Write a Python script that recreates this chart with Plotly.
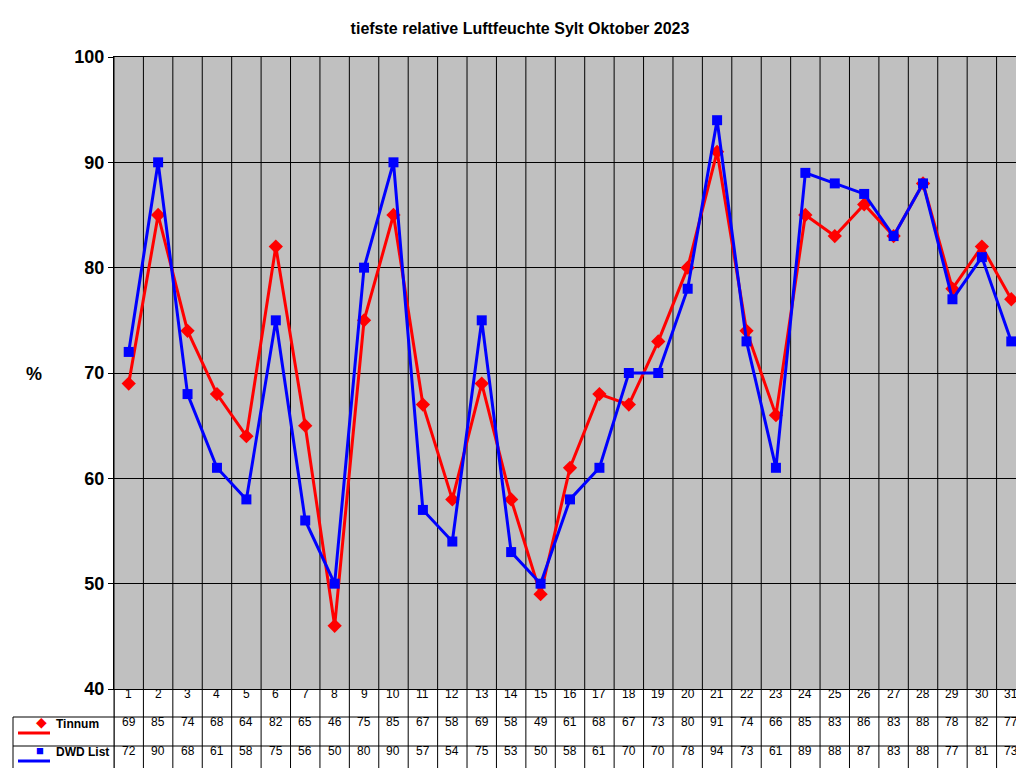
import plotly.graph_objects as go

days = list(range(1, 32))
tinnum = [69,85,74,68,64,82,65,46,75,85,67,58,69,58,49,61,68,67,73,80,91,74,66,85,83,86,83,88,78,82,77]
dwd = [72,90,68,61,58,75,56,50,80,90,57,54,75,53,50,58,61,70,70,78,94,73,61,89,88,87,83,88,77,81,73]
names = ["Tinnum", "DWD List"]
colors = ["#FF0000", "#0000FF"]
symbols = ["diamond", "square"]

W, H = 1024, 768
L, R, T, B = 106, 1018, 49, 681
ph = B - T
pw = R - L
def py(pix): return (B - pix) / ph
def px(pix): return (pix - L) / pw

fig = go.Figure()
for name, vals, c, s in zip(names, [tinnum, dwd], colors, symbols):
    fig.add_trace(go.Scatter(x=days, y=vals, mode="lines+markers", name=name,
                             line=dict(color=c, width=3),
                             marker=dict(symbol=s, size=11 if s == "diamond" else 10, color=c),
                             showlegend=False, cliponaxis=False))

shapes = []
for i in range(32):
    shapes.append(dict(type="line", xref="x", yref="paper", x0=i+0.5, x1=i+0.5,
                       y0=py(766), y1=1, line=dict(color="black", width=1), layer="below"))
for yp in [709, 738, 766]:
    shapes.append(dict(type="line", xref="paper", yref="paper", x0=px(5), x1=1,
                       y0=py(yp), y1=py(yp), line=dict(color="black", width=1)))
shapes.append(dict(type="line", xref="paper", yref="paper", x0=px(5), x1=px(5),
                   y0=py(709), y1=py(766), line=dict(color="black", width=1)))
shapes.append(dict(type="line", xref="paper", yref="paper", x0=px(106), x1=px(106),
                   y0=py(681), y1=py(766), line=dict(color="black", width=1)))
for j, yp in enumerate([725, 753]):
    shapes.append(dict(type="line", xref="paper", yref="paper", x0=px(10), x1=px(42),
                       y0=py(yp), y1=py(yp), line=dict(color=colors[j], width=3)))

ann = []
rows = [(695, [str(d) for d in days]), (723, [str(v) for v in tinnum]), (752, [str(v) for v in dwd])]
for yp, labels in rows:
    for d, lab in zip(days, labels):
        ann.append(dict(x=d, y=py(yp), xref="x", yref="paper", text=lab, showarrow=False,
                        font=dict(size=12, color="black", family="Arial, Liberation Sans"),
                        ))
for j, yp in enumerate([725, 753]):
    ann.append(dict(x=px(26), y=py(yp), xref="paper", yref="paper", showarrow=False,
                    text=["◆", "■"][j], font=dict(size=14 if j == 0 else 13, color=colors[j])))
    ann.append(dict(x=px(46), y=py(yp), xref="paper", yref="paper", showarrow=False,
                    xanchor="left", text="<b>" + names[j] + "</b>",
                    font=dict(size=12, color="black", family="Arial, Liberation Sans")))
ann.append(dict(x=px(16), y=py(366), xref="paper", yref="paper", showarrow=False,
                text="<b>%</b>", font=dict(size=18, color="black", family="Arial, Liberation Sans")))

fig.update_layout(
    width=W, height=H, margin=dict(l=L, r=W - R, t=T, b=H - B),
    paper_bgcolor="white", plot_bgcolor="#C0C0C0",
    title=dict(text="<b>tiefste relative Luftfeuchte Sylt Oktober 2023</b>", x=0.5, xanchor="center",
               y=1 - 20 / H, yanchor="middle",
               font=dict(size=16, color="black", family="Arial, Liberation Sans")),
    xaxis=dict(range=[0.5, 31.5], showticklabels=False, showgrid=False, zeroline=False,
               showline=True, linecolor="black", mirror=True, ticks=""),
    yaxis=dict(range=[40, 100], dtick=10, showgrid=True, gridcolor="black", gridwidth=1,
               zeroline=False, showline=True, linecolor="black", mirror=True,
               ticks="outside", ticklen=5, tickcolor="black",
               tickfont=dict(size=18, color="black", family="Arial Black, Liberation Sans"),
               tickprefix="<b>", ticksuffix="</b>"),
    shapes=shapes, annotations=ann,
)
fig.write_html("out.html")
